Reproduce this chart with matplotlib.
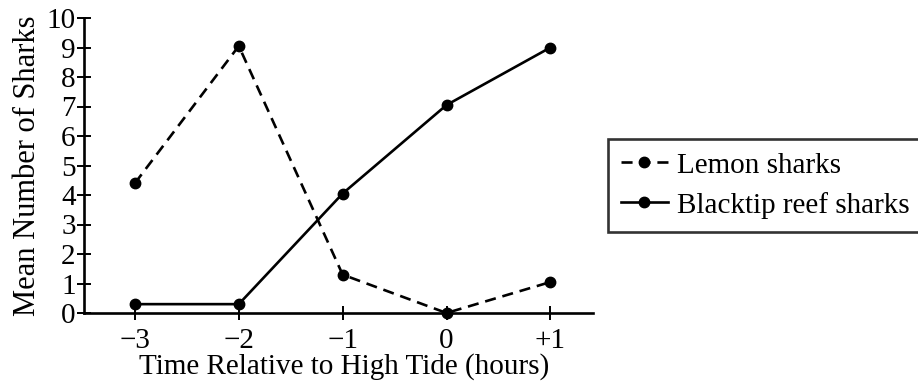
import matplotlib
matplotlib.use("Agg")
import matplotlib.pyplot as plt

# Data:
hours = [-3, -2, -1, 0, 1]
hour_labels = ["\u22123", "\u22122", "\u22121", "0", "+1"]
lemon = [4.4, 9.05, 1.3, 0.0, 1.05]
blacktip = [0.3, 0.3, 4.05, 7.05, 9.0]

# Fonts:
plt.rcParams["font.family"] = ["Liberation Serif", "DejaVu Serif"]

W, H = 918, 382
fig = plt.figure(figsize=(W / 100, H / 100), dpi=100)
ax = fig.add_axes([84 / W, (H - 313) / H, (593 - 84) / W, (313 - 18) / H])

ax.plot(hours, lemon, color="black", lw=1.9, ls=(0, (4.2, 2.6)),
        marker="o", ms=7.5, label="Lemon sharks", clip_on=False)
ax.plot(hours, blacktip, color="black", lw=1.9, ls="-",
        marker="o", ms=7.5, label="Blacktip reef sharks", clip_on=False)

ax.set_xlim(-3.49, 1.41)
ax.set_ylim(0, 10)
ax.set_xticks(hours)
ax.set_xticklabels(hour_labels)
ax.set_yticks(range(0, 11))

for s in ["top", "right"]:
    ax.spines[s].set_visible(False)
for s in ["left", "bottom"]:
    ax.spines[s].set_linewidth(1.9)

ax.tick_params(direction="inout", length=10, width=1.4,
               labelsize=21, colors="black")
ax.tick_params(axis="x", pad=6)
ax.tick_params(axis="y", pad=1)

ax.set_xlabel("Time Relative to High Tide (hours)", fontsize=21, labelpad=2)
ax.xaxis.set_label_coords(0.511, -0.135, transform=ax.transAxes)
ax.xaxis.label.set_va("top")
ax.set_ylabel("Mean Number of Sharks", fontsize=22, labelpad=3)

leg = fig.legend(loc="upper left", bbox_to_anchor=(608 / W, 1 - 139 / H),
                 fontsize=21, frameon=True, fancybox=False, shadow=False,
                 handlelength=1.6, handletextpad=0.3, borderpad=0.45,
                 labelspacing=0.45, borderaxespad=0)
leg.get_frame().set_edgecolor("black")
leg.get_frame().set_linewidth(1.9)

fig.savefig("out.png", dpi=100)
